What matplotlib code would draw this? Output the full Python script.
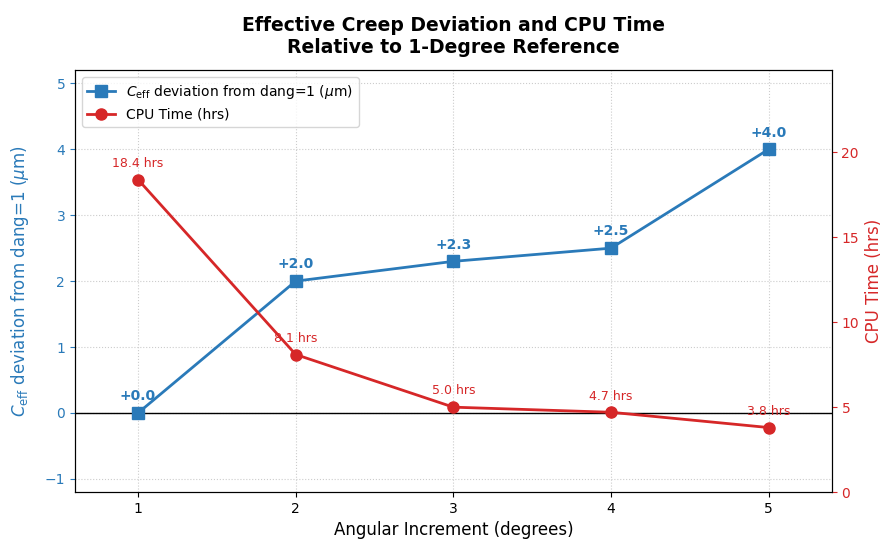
import matplotlib
matplotlib.use("Agg")
import matplotlib.pyplot as plt

# data
angles = [1, 2, 3, 4, 5]
ceff_dev = [0.0, 2.0, 2.3, 2.5, 4.0]
cpu_hrs = [18.4, 8.1, 5.0, 4.7, 3.8]

blue = "#2a7ab9"
red = "#d62728"

fig, ax1 = plt.subplots(figsize=(8.82, 5.48), dpi=100)
fig.subplots_adjust(left=0.085, right=0.943, top=0.872, bottom=0.102)
ax2 = ax1.twinx()

ax1.axhline(0, color="black", linewidth=1)
l1, = ax1.plot(angles, ceff_dev, "s-", color=blue, linewidth=2, markersize=8,
               label=r"$C_{\mathrm{eff}}$ deviation from dang=1 ($\mu$m)")
for x, y in zip(angles, ceff_dev):
    ax1.annotate(f"{y:+.1f}", (x, y), xytext=(0, 7), textcoords="offset points",
                 ha="center", va="bottom", fontsize=10, fontweight="bold", color=blue)

l2, = ax2.plot(angles, cpu_hrs, "o-", color=red, linewidth=2, markersize=8,
               label="CPU Time (hrs)")
for x, y in zip(angles, cpu_hrs):
    ax2.annotate(f"{y:.1f} hrs", (x, y), xytext=(0, 7), textcoords="offset points",
                 ha="center", va="bottom", fontsize=9, color=red)

ax1.set_xlim(0.6, 5.4)
ax1.set_ylim(-1.2, 5.2)
ax2.set_ylim(0, 18.4 * 1.35)
ax1.set_xticks(angles)
ax2.set_yticks([0, 5, 10, 15, 20])

ax1.set_xlabel("Angular Increment (degrees)", fontsize=12)
ax1.set_ylabel(r"$C_{\mathrm{eff}}$ deviation from dang=1 ($\mu$m)", fontsize=12,
               color=blue, labelpad=10)
ax2.set_ylabel("CPU Time (hrs)", fontsize=12, color=red)
ax1.tick_params(axis="y", colors=blue)
ax2.tick_params(axis="y", colors=red)
ax1.grid(True, linestyle=":", color="#cccccc", linewidth=0.8)

ax2.legend(handles=[l1, l2], loc="upper left", fontsize=10)
ax1.set_title("Effective Creep Deviation and CPU Time\nRelative to 1-Degree Reference",
              fontsize=13.5, fontweight="bold", pad=12)

fig.savefig("out.png", dpi=100)
